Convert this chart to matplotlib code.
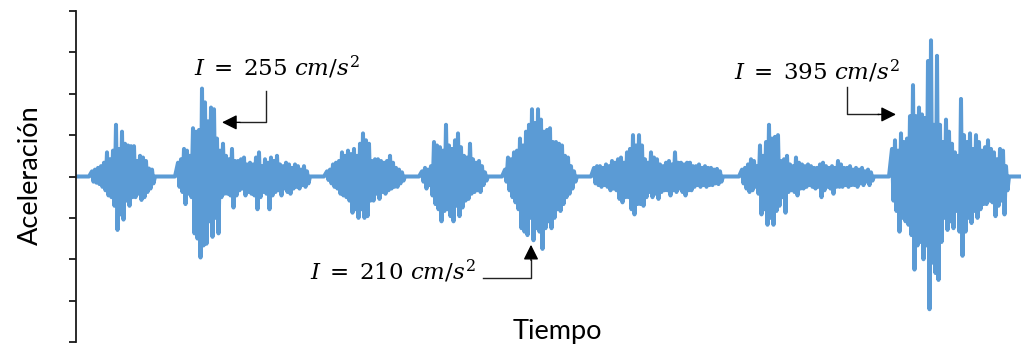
import numpy as np
import matplotlib
matplotlib.use("Agg")
import matplotlib.pyplot as plt

plt.rcParams['font.family'] = ['Lato', 'DejaVu Sans']
plt.rcParams['mathtext.fontset'] = 'dejavuserif'

# aceleración (cm/s^2): picos positivos y negativos de cada tren de ondas
dt = 0.3  # s entre picos
t_fin = 94.5

inicio = [1.6, 10.2, 25.1, 34.6, 42.9, 51.8, 66.6, 81.6]

arriba = [
    [15, 20, 25, 30, 40, 70, 50, 75, 150, 80, 130, 95, 90, 88, 88, 45, 60, 55, 45, 23, 20],
    [40, 50, 80, 75, 60, 140, 130, 135, 255, 215, 160, 200, 195, 110, 75, 95, 60, 50, 80, 45,
     45, 50, 55, 35, 40, 35, 55, 70, 30, 50, 40, 55, 45, 60, 35, 30, 40, 35, 25, 35, 30, 20, 30, 15],
    [15, 20, 35, 40, 45, 70, 60, 75, 65, 80, 60, 95, 125, 105, 95, 45, 50, 50, 45, 40, 45, 60, 40,
     25, 20, 12],
    [15, 25, 20, 30, 100, 90, 85, 75, 150, 90, 80, 105, 125, 85, 60, 55, 95, 50, 40, 45, 30, 12],
    [20, 55, 50, 70, 75, 110, 90, 130, 150, 195, 155, 195, 165, 130, 135, 140, 100, 100, 95, 90,
     60, 55, 30, 15],
    [25, 30, 30, 25, 35, 30, 45, 40, 50, 55, 40, 70, 80, 120, 90, 120, 90, 50, 40, 70, 55, 50, 35,
     30, 40, 45, 35, 70, 40, 40, 35, 40, 40, 30, 30, 35, 25, 30, 25, 25, 20, 22, 15],
    [20, 25, 35, 50, 45, 30, 90, 60, 100, 150, 110, 115, 120, 45, 50, 60, 35, 30, 55, 40, 35, 30,
     35, 30, 25, 25, 35, 40, 30, 25, 30, 25, 45, 35, 25, 25, 30, 20, 25, 20, 25, 15, 20, 12],
    [80, 105, 75, 125, 100, 110, 175, 265, 175, 200, 180, 170, 335, 395, 150, 350, 150, 100, 165,
     130, 95, 70, 60, 225, 120, 100, 125, 80, 120, 100, 75, 85, 105, 80, 70, 50, 80, 75, 30],
]

abajo = [
    [-15, -18, -22, -30, -40, -55, -60, -85, -155, -110, -125, -70, -85, -60, -60, -50, -68, -60,
     -45, -35, -20],
    [-30, -45, -80, -50, -60, -165, -180, -235, -200, -195, -130, -175, -120, -165, -60, -50, -50,
     -55, -90, -55, -40, -35, -55, -45, -50, -55, -95, -60, -45, -50, -95, -55, -45, -40, -55, -35,
     -45, -50, -35, -30, -35, -25, -30, -20],
    [-10, -20, -30, -35, -50, -55, -60, -70, -105, -95, -120, -95, -120, -115, -70, -70, -50, -65,
     -45, -50, -40, -35, -30, -30, -20, -12],
    [-15, -35, -25, -55, -80, -95, -130, -100, -95, -115, -130, -85, -115, -90, -70, -65, -50, -45,
     -40, -45, -25, -12],
    [-15, -40, -60, -75, -95, -150, -160, -170, -120, -185, -150, -160, -210, -150, -130, -150,
     -120, -95, -100, -80, -60, -50, -35, -15],
    [-20, -25, -30, -25, -30, -40, -35, -40, -65, -75, -60, -60, -95, -110, -80, -80, -85, -60,
     -45, -60, -50, -65, -45, -40, -40, -55, -40, -45, -35, -45, -55, -40, -40, -30, -25, -30, -25,
     -30, -25, -25, -20, -22, -15],
    [-20, -35, -45, -40, -30, -50, -110, -95, -140, -120, -140, -100, -85, -60, -105, -45, -40,
     -45, -55, -35, -35, -30, -25, -30, -35, -30, -60, -40, -30, -35, -50, -30, -30, -30, -25, -30,
     -25, -25, -30, -20, -25, -15, -25, -12],
    [-70, -100, -160, -120, -130, -140, -170, -270, -200, -190, -240, -200, -385, -250, -280, -300,
     -190, -120, -155, -130, -150, -100, -160, -230, -160, -120, -135, -100, -120, -95, -80, -80,
     -70, -75, -115, -85, -70, -110, -40],
]

# serie completa: reposo entre trenes, picos alternados dentro de cada tren
t = [0.0]
a = [0.0]
for t0, sup, inf in zip(inicio, arriba, abajo):
    t.append(t0 - dt)
    a.append(0.0)
    for i, (s, d) in enumerate(zip(sup, inf)):
        t += [t0 + i * dt, t0 + (i + 0.5) * dt]
        a += [s, d]
    t.append(t0 + len(sup) * dt)
    a.append(0.0)
t.append(t_fin)
a.append(0.0)

fig = plt.figure(figsize=(10.21, 3.52), dpi=100)
ax = fig.add_axes([76 / 1021, 10 / 352, 1 - 76 / 1021, 331 / 352])
ax.plot(t, a, color='#5B9BD5', lw=2.9, solid_joinstyle='round')

ax.set_xlim(0, t_fin)
ax.set_ylim(-480, 480)
ax.set_yticks(np.arange(-480, 481, 120))
ax.set_yticklabels([])
ax.set_xticks([])
for lado in ['top', 'right', 'bottom']:
    ax.spines[lado].set_visible(False)
ax.spines['left'].set_linewidth(1.3)
ax.spines['left'].set_color('#1a1a1a')
ax.tick_params(axis='y', direction='out', length=5, width=1.3, color='#1a1a1a')
ax.patch.set_visible(False)

fig.text(0.030, 0.503, 'Aceleración', rotation=90, ha='center', va='center', fontsize=19.5)
fig.text(0.5455, 0.058, 'Tiempo', ha='center', va='center', fontsize=19.5)


def flecha(texto, pos_texto, codo, punta, base):
    ax.text(pos_texto[0], pos_texto[1], texto, ha='center', va='center', fontsize=16.5)
    ax.plot([codo[0][0], codo[1][0], base[0]], [codo[0][1], codo[1][1], base[1]],
            color='#222222', lw=1.0)
    ax.annotate('', xy=punta, xytext=base,
                arrowprops=dict(arrowstyle='-|>,head_length=0.9,head_width=0.45',
                                color='black', lw=1.0, shrinkA=0, shrinkB=0))


flecha(r'$I\;=\;255\ cm/s^2$', (20.1, 315), ((19.0, 247), (19.0, 157)), (14.6, 157), (16.4, 157))
flecha(r'$I\;=\;210\ cm/s^2$', (31.7, -275), ((40.7, -293), (45.5, -293)), (45.5, -198), (45.5, -243))
flecha(r'$I\;=\;395\ cm/s^2$', (74.1, 305), ((77.1, 260), (77.1, 180)), (82.0, 180), (80.2, 180))

fig.savefig('out.png', dpi=100)
